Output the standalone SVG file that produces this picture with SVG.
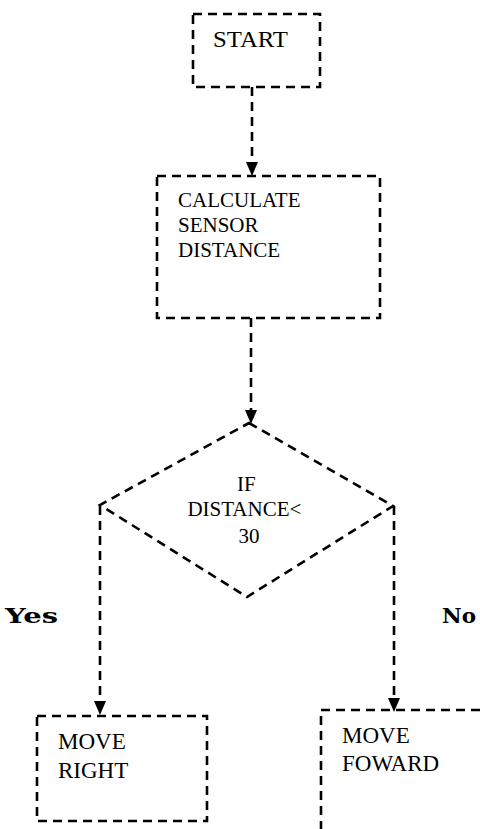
<svg xmlns="http://www.w3.org/2000/svg" width="480" height="829" viewBox="0 0 480 829">
  <style>
    .box { fill: none; stroke: #000; stroke-width: 2.6; stroke-dasharray: 9 6; }
    .conn { fill: none; stroke: #000; stroke-width: 2.6; stroke-dasharray: 9 6; }
    .head { fill: #000; }
    .t { font-family: 'Liberation Serif', 'Times New Roman', serif; fill: #000; }
    .lbl { font-family: 'DejaVu Serif', serif; font-weight: bold; font-size: 20px; fill: #000; }
  </style>
  <rect width="480" height="829" fill="#fff"/>

  <g id="connectors">
    <line class="conn" x1="252" y1="87" x2="252" y2="163"/>
    <path class="head" d="M246,162 L258,162 L252,176 Z"/>
    <line class="conn" x1="251" y1="318" x2="251" y2="411"/>
    <path class="head" d="M245,410 L257,410 L251,424 Z"/>
    <line class="conn" x1="100" y1="506" x2="100" y2="702"/>
    <path class="head" d="M94,701 L106,701 L100,715 Z"/>
    <line class="conn" x1="394" y1="506" x2="394" y2="699"/>
    <path class="head" d="M388,698 L400,698 L394,712 Z"/>
  </g>

  <g id="start">
    <rect class="box" x="193" y="14" width="127" height="73"/>
    <text class="t" x="213" y="47" font-size="23" textLength="75" lengthAdjust="spacingAndGlyphs">START</text>
  </g>

  <g id="calc">
    <rect class="box" x="157" y="176" width="223" height="142"/>
    <text class="t" font-size="21">
      <tspan x="178" y="207">CALCULATE</tspan>
      <tspan x="178" y="232">SENSOR</tspan>
      <tspan x="178" y="257">DISTANCE</tspan>
    </text>
  </g>

  <g id="decision">
    <polygon class="box" points="249,423 393,506 247,597 100,505"/>
    <text class="t" font-size="21" text-anchor="middle">
      <tspan x="249" y="491">IF</tspan>
      <tspan x="247" y="516">DISTANCE&lt;</tspan>
      <tspan x="249" y="543">30</tspan>
    </text>
  </g>

  <g id="yes-label">
    <text class="lbl" x="5" y="623" textLength="53" lengthAdjust="spacingAndGlyphs">Yes</text>
  </g>
  <g id="no-label">
    <text class="lbl" x="442" y="623" textLength="34" lengthAdjust="spacingAndGlyphs">No</text>
  </g>

  <g id="move-right">
    <rect class="box" x="37" y="716" width="170" height="105"/>
    <text class="t" font-size="23">
      <tspan x="58" y="749">MOVE</tspan>
      <tspan x="58" y="778">RIGHT</tspan>
    </text>
  </g>

  <g id="move-forward">
    <rect class="box" x="321" y="710" width="200" height="160"/>
    <text class="t" font-size="23">
      <tspan x="342" y="743">MOVE</tspan>
      <tspan x="342" y="771">FOWARD</tspan>
    </text>
  </g>
</svg>
